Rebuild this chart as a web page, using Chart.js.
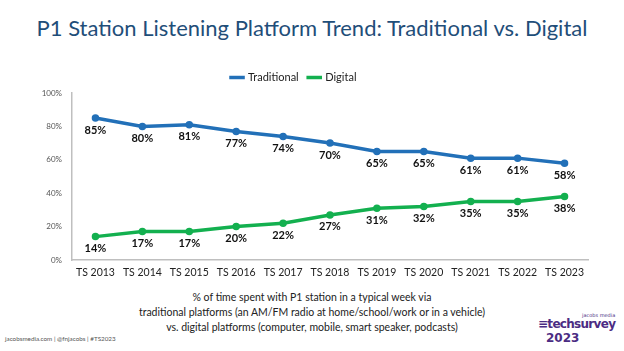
<!DOCTYPE html>
<html lang="en">
<head>
    <meta charset="UTF-8">
    <title>P1 Station Listening Platform Trend</title>
    <style>
        body {
            margin: 0;
            width: 624px;
            height: 351px;
            background: #ffffff;
            font-family: Lato, "Open Sans", sans-serif;
            position: relative;
            overflow: hidden;
        }
        #title {
            position: absolute;
            top: 14px;
            left: 0;
            width: 624px;
            text-align: center;
            font-size: 22px;
            color: #1F4E79;
        }
        #chart-box {
            position: absolute;
            top: 60px;
            left: 0;
            width: 624px;
            height: 225px;
        }
        #note {
            position: absolute;
            top: 290px;
            left: 0;
            width: 624px;
            text-align: center;
            font-size: 10.5px;
            line-height: 15px;
            color: #222;
        }
        #credit {
            position: absolute;
            top: 335px;
            left: 5px;
            font-size: 6.3px;
            color: #555;
        }
        #logo {
            position: absolute;
            top: 312px;
            left: 538px;
            color: #4B2C83;
            font-family: "DejaVu Sans", sans-serif;
            font-weight: bold;
        }
        #logo .small { position: absolute; left: 44px; top: 0; font-size: 5px; font-weight: normal; white-space: nowrap; }
        #logo .big { position: absolute; left: 0; top: 5px; font-size: 12px; letter-spacing: -0.7px; white-space: nowrap; }
        #logo .year { position: absolute; left: 8px; top: 19px; font-size: 12px; }
    </style>
</head>
<body>
    <div id="title">P1 Station Listening Platform Trend: Traditional vs. Digital</div>
    <div id="chart-box"><canvas id="trend"></canvas></div>
    <div id="note">% of time spent with P1 station in a typical week via<br>traditional platforms (an AM/FM radio at home/school/work or in a vehicle)<br>vs. digital platforms (computer, mobile, smart speaker, podcasts)</div>
    <div id="credit">jacobsmedia.com | @fnjacobs | #TS2023</div>
    <div id="logo"><span class="small">jacobs media</span><span class="big">≡techsurvey</span><span class="year">2023</span></div>

    <script src="https://cdn.jsdelivr.net/npm/chart.js"></script>
    <script>
        // 데이터
        const years = ['TS 2013', 'TS 2014', 'TS 2015', 'TS 2016', 'TS 2017', 'TS 2018',
                       'TS 2019', 'TS 2020', 'TS 2021', 'TS 2022', 'TS 2023'];
        const traditional = [85, 80, 81, 77, 74, 70, 65, 65, 61, 61, 58];
        const digital = [14, 17, 17, 20, 22, 27, 31, 32, 35, 35, 38];
        const yTicks = [0, 20, 40, 60, 80, 100];

        // 점 아래에 값 표시
        const valueLabels = {
            id: 'valueLabels',
            afterDatasetsDraw(chart) {
                const ctx = chart.ctx;
                ctx.save();
                ctx.font = 'bold 11px Lato, sans-serif';
                ctx.fillStyle = '#111';
                ctx.textAlign = 'center';
                ctx.textBaseline = 'middle';
                chart.data.datasets.forEach((ds, i) => {
                    chart.getDatasetMeta(i).data.forEach((pt, j) => {
                        ctx.fillText(ds.data[j] + '%', pt.x, pt.y + 12);
                    });
                });
                ctx.restore();
            }
        };

        new Chart(document.getElementById('trend'), {
            type: 'line',
            data: {
                labels: years,
                datasets: [{
                    label: 'Traditional',
                    data: traditional,
                    borderColor: '#2270B8',
                    backgroundColor: '#2270B8',
                    borderWidth: 3.5,
                    pointRadius: 2,
                    tension: 0
                }, {
                    label: 'Digital',
                    data: digital,
                    borderColor: '#13B04F',
                    backgroundColor: '#13B04F',
                    borderWidth: 3.5,
                    pointRadius: 2,
                    tension: 0
                }]
            },
            options: {
                responsive: true,
                maintainAspectRatio: false,
                animation: false,
                layout: { padding: { left: 0, right: 36, top: 2, bottom: 0 } },
                plugins: {
                    legend: {
                        position: 'top',
                        labels: {
                            usePointStyle: true,
                            pointStyle: 'line',
                            boxWidth: 16,
                            padding: 10,
                            color: '#222',
                            font: { family: 'Lato, sans-serif', size: 11 }
                        }
                    },
                    tooltip: { enabled: false }
                },
                scales: {
                    x: {
                        offset: true,
                        grid: { display: false, drawTicks: false },
                        border: { color: '#BFBFBF', width: 1.5 },
                        ticks: {
                            color: '#222',
                            padding: 6,
                            maxRotation: 0,
                            font: { family: 'Lato, sans-serif', size: 10.5 }
                        },
                        afterFit(scale) { scale.height = 25; }
                    },
                    y: {
                        min: 0,
                        max: 100,
                        grid: { display: false, drawTicks: false },
                        border: { color: '#BFBFBF', width: 1.5 },
                        afterBuildTicks(scale) { scale.ticks = yTicks.map(v => ({ value: v })); },
                        ticks: {
                            color: '#555',
                            padding: 10,
                            font: { family: 'Lato, sans-serif', size: 8 },
                            callback: v => v + '%'
                        },
                        afterFit(scale) { scale.width = 72; }
                    }
                }
            },
            plugins: [valueLabels]
        });
    </script>
</body>
</html>
